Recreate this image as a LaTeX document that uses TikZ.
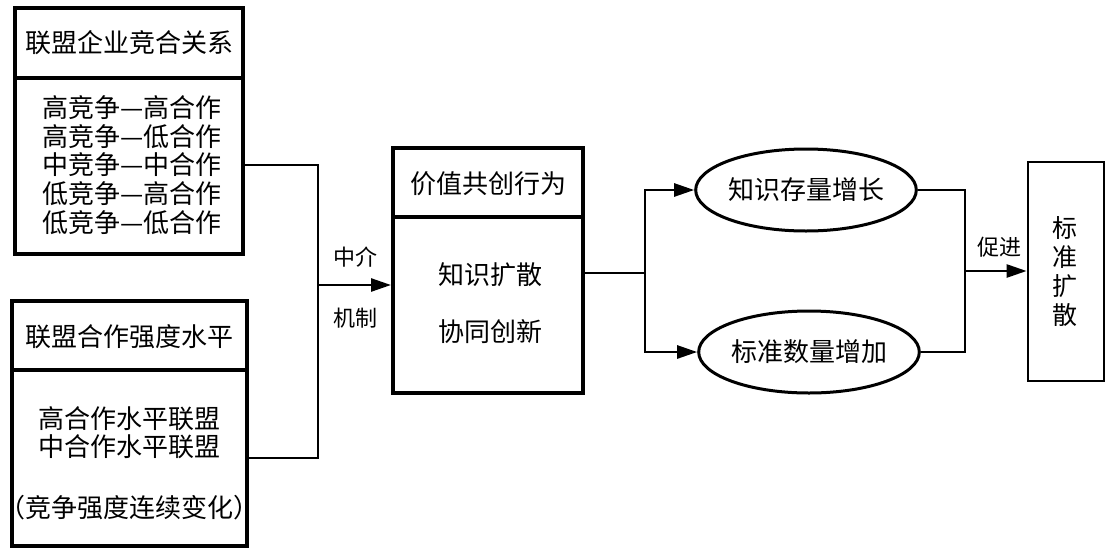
\documentclass[tikz,border=0pt]{standalone}
\usepackage{fontspec}
\setmainfont{Noto Sans CJK SC}
\usetikzlibrary{arrows.meta,shapes.geometric}
\begin{document}
\begin{tikzpicture}[x=1pt,y=-1pt,
  txt/.style={font=\fontsize{26pt}{28.6pt}\selectfont, inner sep=0pt, align=center},
  lbl/.style={font=\fontsize{22pt}{26pt}\selectfont, inner sep=0pt},
  boxpart/.style={draw, line width=4pt, rectangle, inner sep=0pt},
  oval/.style={draw, line width=3pt, ellipse, inner sep=0pt, minimum width=196pt, minimum height=82pt, font=\fontsize{26pt}{28pt}\selectfont},
  conn/.style={line width=2.6pt},
  arr/.style={line width=2.6pt, -{Triangle[length=20pt,width=13pt]}}
]
\useasboundingbox (0,0) rectangle (1110,555);
% box 1
\node[boxpart, minimum width=228pt, minimum height=70pt] (b1t) at (129,43) {};
\node[boxpart, minimum width=228pt, minimum height=176pt] (b1b) at (129,166) {};
\node[txt] (b1tt) at (129,43) {联盟企业竞合关系};
\node[txt] (b1bt) at (132,165) {高竞争—高合作\\高竞争—低合作\\中竞争—中合作\\低竞争—高合作\\低竞争—低合作};
% box 2
\node[boxpart, minimum width=235pt, minimum height=69pt] (b2t) at (129.5,335.5) {};
\node[boxpart, minimum width=235pt, minimum height=176pt] (b2b) at (129.5,458) {};
\node[txt] (b2tt) at (129.5,337) {联盟合作强度水平};
\node[txt] (b2bt) at (129.5,463) {高合作水平联盟\\中合作水平联盟\\[32pt]（竞争强度连续变化）};
% box 3
\node[boxpart, minimum width=190pt, minimum height=69pt] (b3t) at (488,182.5) {};
\node[boxpart, minimum width=190pt, minimum height=176pt] (b3b) at (488,305) {};
\node[txt] (b3tt) at (488,184) {价值共创行为};
\node[txt] (b3k) at (490,275) {知识扩散};
\node[txt] (b3x) at (490,332) {协同创新};
% ellipses
\node[oval] (e1) at (806,190) {知识存量增长};
\node[oval] (e2) at (809,352) {标准数量增加};
% box 4
\node[draw, line width=2.8pt, minimum width=76pt, minimum height=219pt, inner sep=0pt] (b4) at (1066,271.5) {};
\node[txt, font=\fontsize{25pt}{29pt}\selectfont] (b4t) at (1065,272) {标\\准\\扩\\散};
% labels
\node[lbl] (zj) at (355,257) {中介};
\node[lbl] (jz) at (355,318) {机制};
\node[lbl] (cj) at (999,247) {促进};
% connectors
\coordinate (m1) at (318,285);
\coordinate (m2) at (645,273);
\coordinate (m3) at (965,271);
\draw[conn] (b1b.east |- 0,165) -| (m1) |- (b2b.east);
\draw[arr] (m1) -- (m1 -| b3b.west);
\draw[conn] (m2 -| b3b.east) -- (m2);
\draw[arr] (m2) |- (e1.west);
\draw[arr] (m2) |- (e2.west);
\draw[conn] (e1.east) -| (m3);
\draw[conn] (e2.east) -| (m3);
\draw[arr] (m3) -- (m3 -| b4.west);
\end{tikzpicture}
\end{document}
